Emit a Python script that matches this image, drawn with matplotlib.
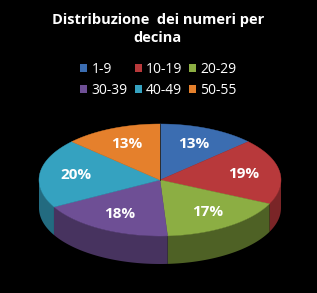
import numpy as np
import matplotlib
matplotlib.use("Agg")
import matplotlib.pyplot as plt
from matplotlib.patches import Polygon, Patch

# data
categories = ["1-9", "10-19", "20-29", "30-39", "40-49", "50-55"]
values = [13, 19, 17, 18, 20, 13]
colors = ["#3b6db1", "#b8393b", "#8cae43", "#6e4f95", "#35a2c0", "#e5802c"]
side_colors = ["#284a78", "#7a2527", "#4e6125", "#47335f", "#236b80", "#9a541c"]

plt.rcParams['font.family'] = ['Open Sans', 'DejaVu Sans']

fig = plt.figure(figsize=(3.17, 2.93), dpi=100, facecolor="black")
ax = fig.add_axes([0, 0, 1, 1])
ax.set_facecolor("black")
ax.set_xlim(0, 317)
ax.set_ylim(293, 0)
ax.axis("off")

# ellipse geometry (pixels)
cx, cy, rx, ry, depth = 160, 180, 121, 56, 28


def pt(t, r=1.0, dz=0.0):
    return cx + r * rx * np.sin(t), cy - r * ry * np.cos(t) + dz


fracs = np.array(values, dtype=float) / sum(values)
edges = np.concatenate([[0], np.cumsum(fracs)]) * 2 * np.pi

# side walls (only the front half is visible)
for i in range(len(values)):
    a, b = max(edges[i], np.pi / 2), min(edges[i + 1], 3 * np.pi / 2)
    if b <= a:
        continue
    t = np.linspace(a, b, 60)
    xs, ys = pt(t)
    top = np.column_stack([xs, ys])
    bot = np.column_stack([xs, ys + depth])[::-1]
    ax.add_patch(Polygon(np.vstack([top, bot]), closed=True,
                         facecolor=side_colors[i], edgecolor="none"))

# top faces
for i in range(len(values)):
    t = np.linspace(edges[i], edges[i + 1], 80)
    xs, ys = pt(t)
    verts = np.vstack([[cx, cy], np.column_stack([xs, ys])])
    ax.add_patch(Polygon(verts, closed=True, facecolor=colors[i],
                         edgecolor=colors[i], linewidth=0.3))
    mid = (edges[i] + edges[i + 1]) / 2
    lx, ly = pt(mid, 0.7)
    ax.text(lx, ly, "%d%%" % round(fracs[i] * 100), color="white",
            fontsize=11, fontweight="bold", ha="center", va="center")

# thin seam at 12 o'clock
ax.plot([cx, cx], [cy, cy - ry], color="#222222", lw=0.6)

ax.text(158, 29, "Distribuzione  dei numeri per\ndecina", color="white",
        fontsize=10.5, fontweight="bold", ha="center", va="center",
        linespacing=1.3)

# legend filled row by row
order = [0, 3, 1, 4, 2, 5]
handles = [Patch(facecolor=colors[k], edgecolor="none") for k in order]
labels = [categories[k] for k in order]
leg = ax.legend(handles, labels, ncol=3, loc="center",
                bbox_to_anchor=(0.5, 1 - 80 / 293), frameon=False,
                fontsize=10, labelcolor="white", handlelength=0.5,
                handleheight=0.5, handletextpad=0.3, columnspacing=0.5,
                labelspacing=0.45, borderpad=0)

fig.savefig("out.png", dpi=100, facecolor="black")
